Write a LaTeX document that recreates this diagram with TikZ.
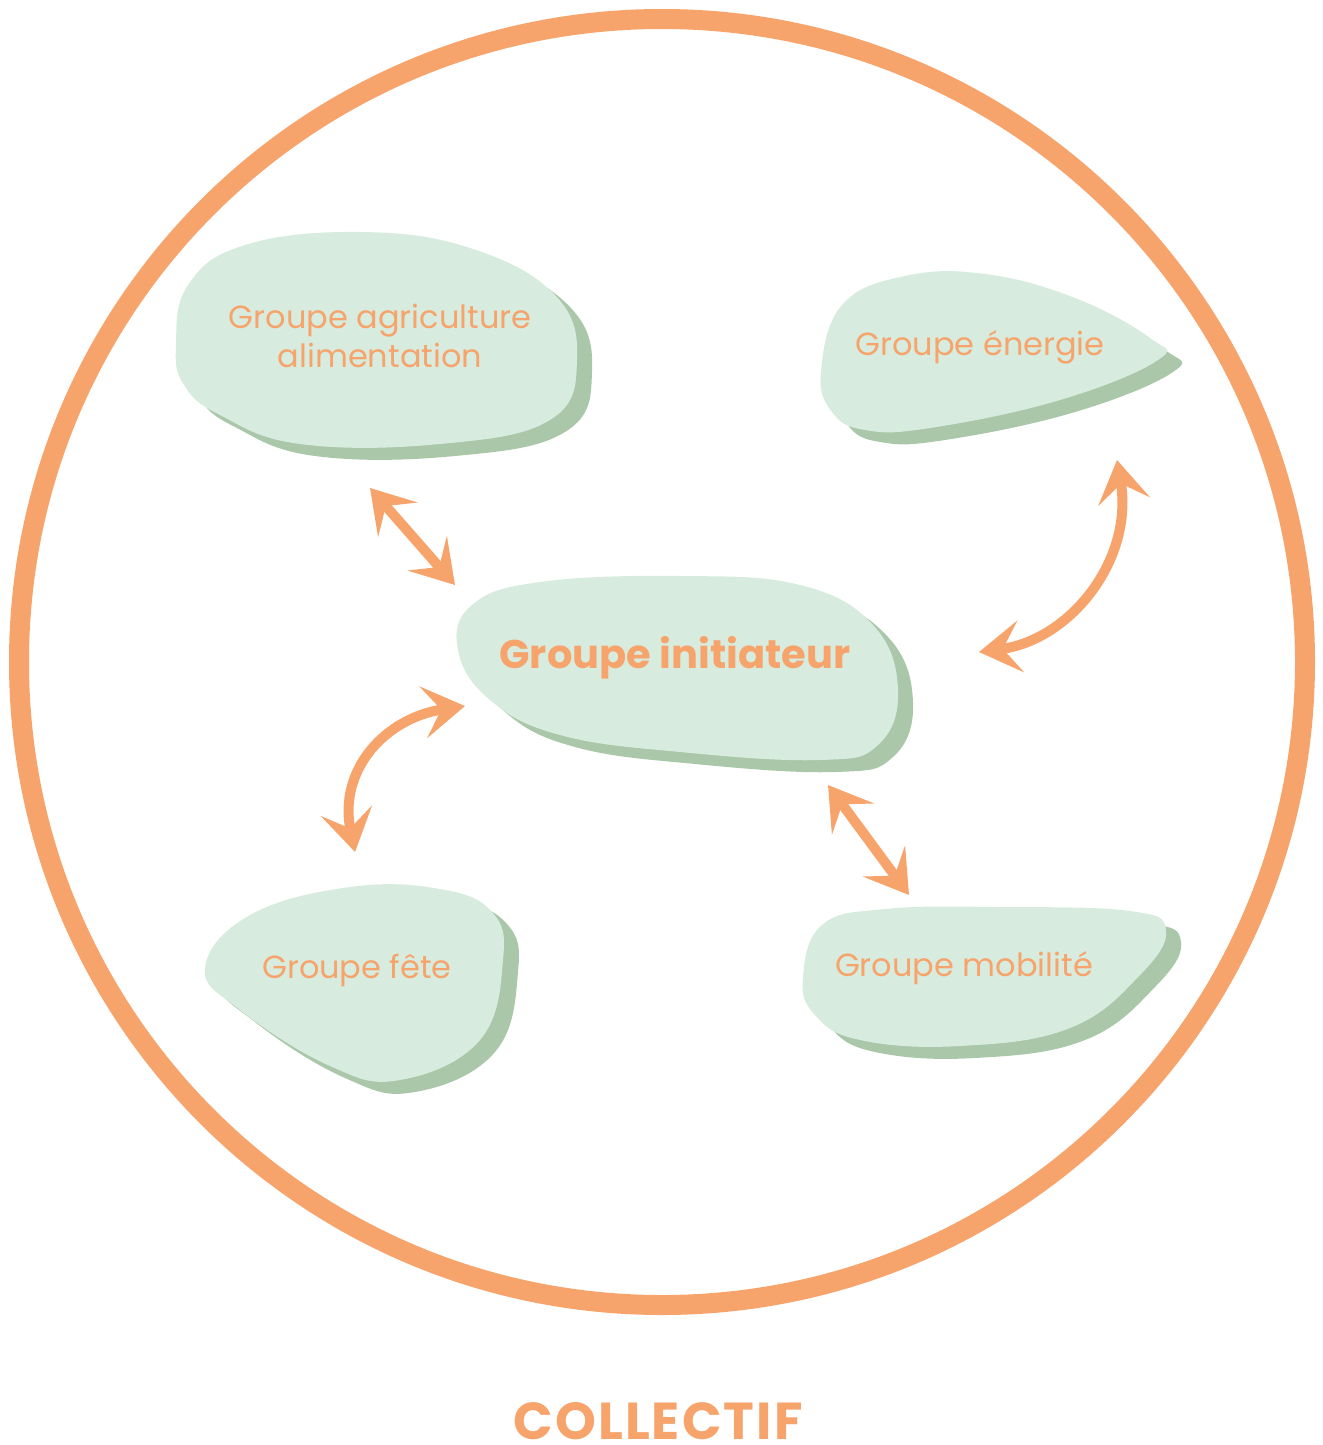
\documentclass[tikz,border=0pt]{standalone}
\usepackage{fontspec}
\setmainfont{Poppins}
\usetikzlibrary{arrows.meta}

\definecolor{orangeC}{HTML}{F7A46C}
\definecolor{vertC}{HTML}{D7ECDF}
\definecolor{ombreC}{HTML}{AAC7A9}

\tikzset{galet/.style = {fill = vertC},
         ombre/.style = {fill = ombreC, shift = {(15,12)}},
         etiquette/.style = {text = orangeC, align = center,
                             font = \fontsize{32}{39}\selectfont},
         fleche/.style = {draw = orangeC, line width = 10pt,
                          {Stealth[length=42pt, width=52pt, inset=18pt]}-{Stealth[length=42pt, width=52pt, inset=18pt]}}
        }

\begin{document}
\begin{tikzpicture}[x=1pt, y=-1pt]
  \useasboundingbox (0,0) rectangle (1322,1445);
  % le collectif
  \draw[orangeC, line width = 20pt] (662,662) circle (643);
  \node[etiquette, anchor = base, inner sep = 0pt, font = \fontsize{52}{54}\selectfont\bfseries\addfontfeatures{LetterSpace=4}] (collectif) at (658,1439) {COLLECTIF};

  % galets
  \foreach \st in {ombre, galet}{
    \path[\st] plot[smooth cycle, tension=0.7] coordinates {(176,345) (188,285) (245,245) (360,232) (470,248) (555,295) (577,360) (550,420) (440,444) (300,444) (220,415) (184,385)};
    \path[\st] plot[smooth cycle, tension=0.7] coordinates {(821,372) (842,305) (905,276) (985,274) (1075,298) (1150,338) (1158,360) (1060,400) (930,428) (865,430) (832,412)};
    \path[\st] plot[smooth cycle, tension=0.7] coordinates {(458,650) (472,605) (540,582) (680,576) (800,585) (873,625) (898,690) (878,745) (820,760) (680,752) (560,735) (490,700)};
    \path[\st] plot[smooth cycle, tension=0.7] coordinates {(205,968) (250,915) (350,887) (440,889) (492,912) (503,960) (480,1040) (400,1080) (330,1066) (240,1010)};
    \path[\st] plot[smooth cycle, tension=0.7] coordinates {(803,978) (822,925) (885,909) (1000,907) (1130,911) (1166,930) (1140,975) (1070,1028) (960,1046) (860,1040) (815,1015)};
  }

  \node[etiquette] (agri) at (380,336) {Groupe agriculture\\alimentation};
  \node[etiquette] (energie) at (980,347) {Groupe énergie};
  \node[etiquette, font = \fontsize{40}{44}\selectfont\bfseries] (init) at (675,658) {Groupe initiateur};
  \node[etiquette] (fete) at (357,970) {Groupe fête};
  \node[etiquette] (mobilite) at (964,968) {Groupe mobilité};

  % fleches
  \coordinate (a1) at (370,488);  \coordinate (b1) at (455,585);
  \coordinate (a2) at (979,652);  \coordinate (b2) at (1117,460);
  \coordinate (a3) at (355,852);  \coordinate (b3) at (465,706);
  \coordinate (a4) at (828,785);  \coordinate (b4) at (909,895);
  \draw[fleche] (a1) -- (b1);
  \draw[fleche] (a2) .. controls (1070,640) and (1134,560) .. (b2);
  \draw[fleche] (a3) .. controls (338,770) and (385,718) .. (b3);
  \draw[fleche] (a4) -- (b4);
\end{tikzpicture}
\end{document}
